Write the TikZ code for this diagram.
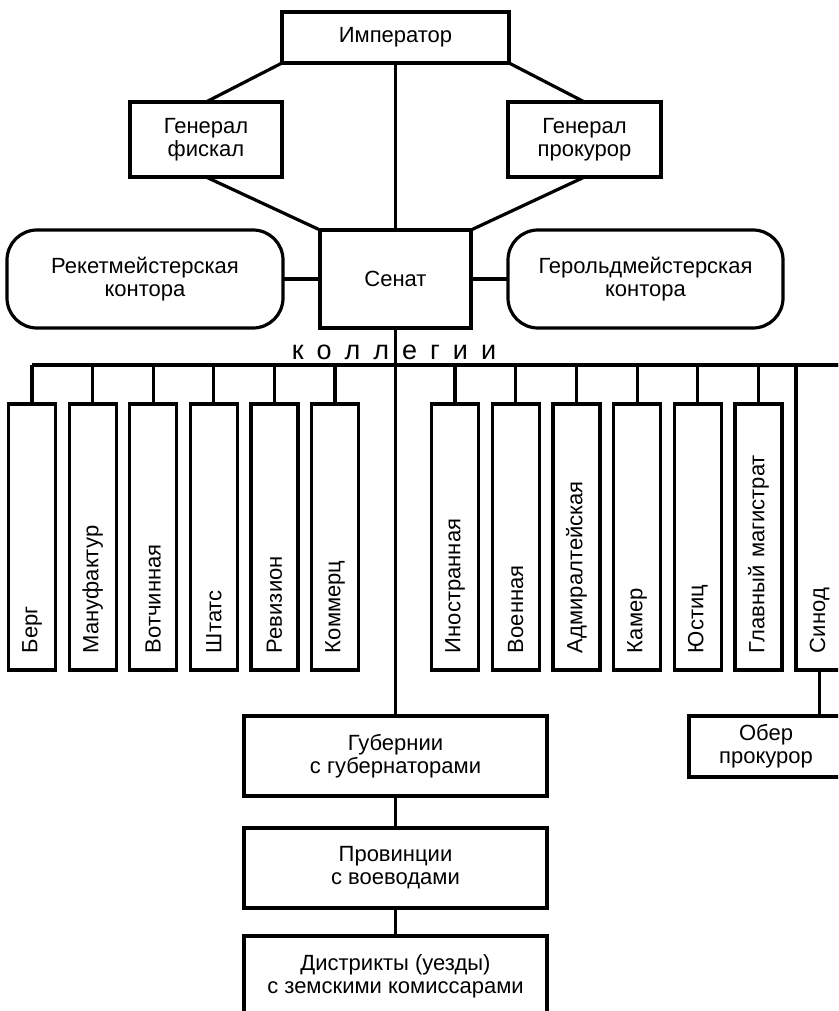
\documentclass[tikz,border=0pt]{standalone}
\usepackage{fontspec}
\setmainfont{Liberation Sans}
\usetikzlibrary{positioning}

\begin{document}
\begin{tikzpicture}[x=1pt, y=-1pt, line width=3.2pt,  block/.style={    draw,    rectangle,    outer sep=0pt,    inner sep=0pt,    align=center,    font=\fontsize{22}{23}\selectfont  },  oval/.style={    block,    rounded corners=30pt  },  coll/.style={    draw,    rectangle,    rotate=90,    outer sep=0pt,    minimum height=47pt,    inner ysep=0pt,    inner xsep=17pt,    text width=232pt,    align=left,    font=\fontsize{22}{23}\selectfont  },  link/.style={    line width=3.2pt  }]
		\path[use as bounding box] (0,0) rectangle (838,1011);
		\clip (0,0) rectangle (838,1011);
		% Nodes
		\node[block, minimum width=227pt, minimum height=51pt] (emp) at (395.5,37.5) {Император};
		\node[block, minimum width=152pt, minimum height=75pt] (fisk) at (206,139.5) {Генерал\\фискал};
		\node[block, minimum width=153pt, minimum height=75pt] (prok) at (584.5,139.5) {Генерал\\прокурор};
		\node[block, minimum width=151pt, minimum height=98pt] (senat) at (395.5,279) {Сенат};
		\node[oval, minimum width=276pt, minimum height=98pt, left=37pt of senat] (reket) {Рекетмейстерская\\контора};
		\node[oval, minimum width=275pt, minimum height=98pt, right=37pt of senat] (gerold) {Герольдмейстерская\\контора};
		\node[font=\fontsize{27}{28}\selectfont, anchor=base] (koll) at (394,359) {к\hspace{13pt}о\hspace{13pt}л\hspace{13pt}л\hspace{13pt}е\hspace{13pt}г\hspace{13pt}и\hspace{13pt}и};
		\coordinate (busR) at (850,365);
		% Kollegii
		\foreach \txt [count=\i from 0] in {Берг,Мануфактур,Вотчинная,Штатс,Ревизион,Коммерц} {
			\node[coll] (L\i) at ({32+60.6*\i},537) {\txt};
			\draw[link] (L\i.east) -- (L\i.east |- busR);
		}
		\foreach \txt [count=\i from 0] in {Иностранная,Военная,Адмиралтейская,Камер,Юстиц,Главный магистрат} {
			\node[coll] (R\i) at ({455+60.7*\i},537) {\txt};
			\draw[link] (R\i.east) -- (R\i.east |- busR);
		}
		\node[coll, text width=271pt] (synod) at (819.5,517.5) {Синод};
		\node[block, minimum width=154pt, minimum height=61pt] (ober) at (766,746.5) {Обер\\прокурор};
		% Lower levels
		\node[block, minimum width=303pt, minimum height=80pt] (gub) at (395.5,756) {Губернии\\с губернаторами};
		\node[block, minimum width=303pt, minimum height=80pt, below=32pt of gub] (prov) {Провинции\\с воеводами};
		\node[block, minimum width=303pt, minimum height=80pt, below=28pt of prov] (distr) {Дистрикты (уезды)\\с земскими комиссарами};
		% Lines
		\draw[link] (emp.south west) -- (fisk.north);
		\draw[link] (emp.south east) -- (prok.north);
		\draw[link] (fisk.south) -- (senat.north west);
		\draw[link] (prok.south) -- (senat.north east);
		\draw[link] (emp.south) -- (senat.north);
		\draw[link] (reket.east) -- (senat.west);
		\draw[link] (senat.east) -- (gerold.west);
		\draw[link] (L0.east |- busR) -- (busR);
		\draw[link] (senat.south) -- (gub.north);
		\draw[link] (gub.south) -- (prov.north);
		\draw[link] (prov.south) -- (distr.north);
		\draw[link] (synod.west) -- (synod.west |- ober.north);
	\end{tikzpicture}
\end{document}
